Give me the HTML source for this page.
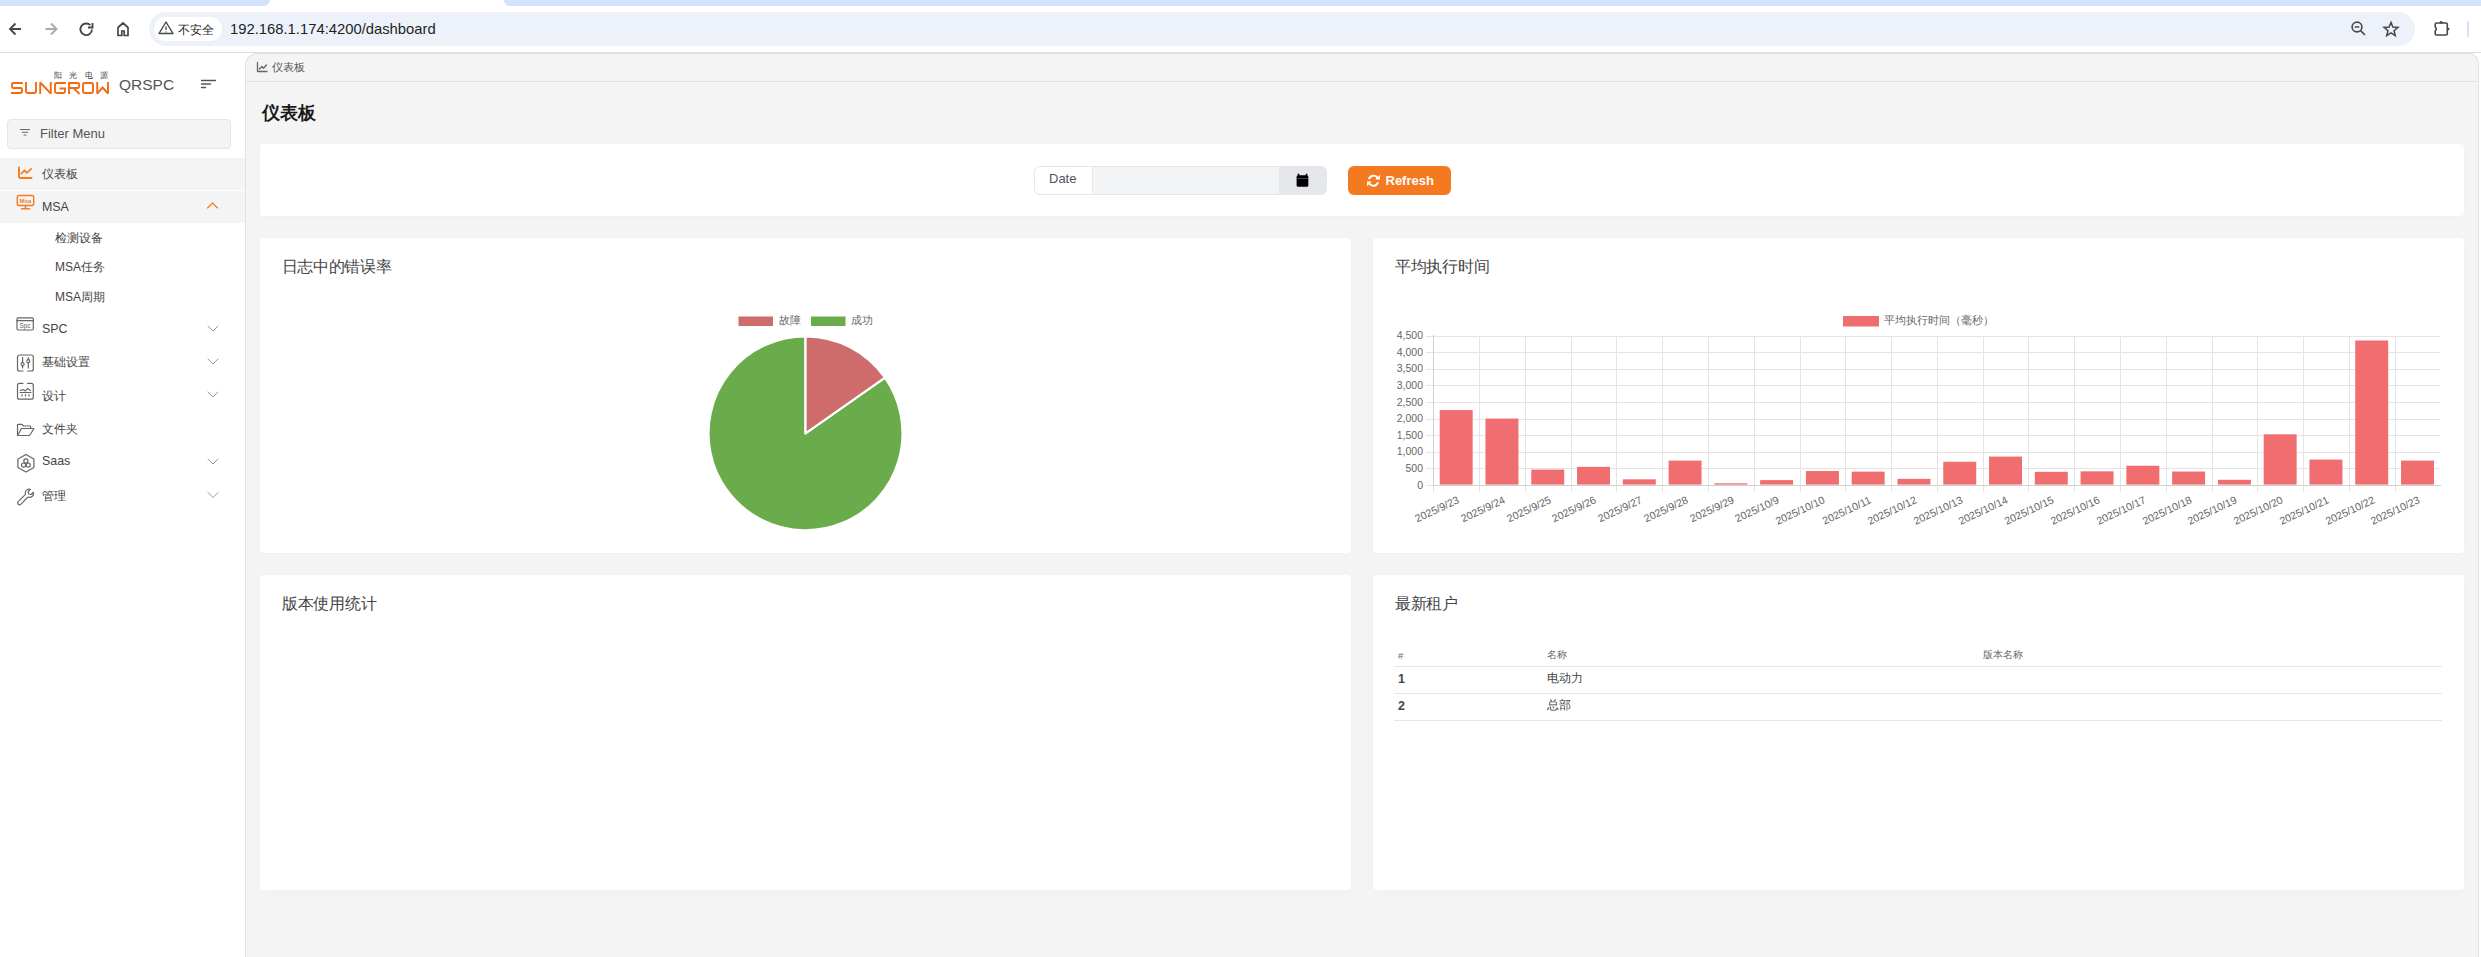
<!DOCTYPE html>
<html><head><meta charset="utf-8">
<style>
*{box-sizing:border-box;margin:0;padding:0}
html,body{width:2481px;height:957px;overflow:hidden;background:#fff;font-family:"Liberation Sans",sans-serif;color:#333}
.a{position:absolute}
#tabstrip{left:0;top:0;width:2481px;height:6px;background:#d3e3fd}
#tab{left:269px;top:0;width:236px;height:6px;background:#fff}
#toolbar{left:0;top:60px;width:2481px;height:46px;background:#fff}
#sep{left:0;top:52px;width:2481px;height:1px;background:#dadce0}
#omni{left:149px;top:12px;width:2266px;height:34px;border-radius:17px;background:#edf2fa}
#chip{left:154px;top:17px;width:68px;height:24px;border-radius:12px;background:#fff}
.url{font-size:14.8px;color:#1f1f1f;white-space:nowrap}
#side{left:0;top:53px;width:245px;height:904px;background:#fff}
#main{left:245px;top:53px;width:2234px;height:904px;background:#f4f4f4;border-left:1px solid #e2e2e2;border-right:1px solid #e2e2e2;border-top:1px solid #e2e2e2;border-top-left-radius:12px;border-top-right-radius:10px}
#bc{left:246px;top:81px;width:2232px;height:1px;background:#e2e2e2}
.card{background:#fff;border-radius:4px;box-shadow:0 1px 8px rgba(0,0,0,0.02)}
.ct{font-size:15.5px;letter-spacing:-0.3px;color:#444;white-space:nowrap}
.mi{font-size:12.4px;color:#444;white-space:nowrap}
.sub{font-size:12px;color:#444;white-space:nowrap}
.chev{width:8px;height:8px;border-right:1.2px solid #999;border-bottom:1.2px solid #999;transform:rotate(45deg)}
.yl{font-size:10.5px;color:#666;text-align:right;width:40px;white-space:nowrap;line-height:12px}
.xl{font-size:10.6px;color:#666;white-space:nowrap;line-height:12px;transform-origin:100% 50%;transform:rotate(-25deg)}
</style></head><body>
<!-- browser chrome -->
<div class="a" style="left:0;top:0;width:270px;height:6px;background:#d3e3fd;border-bottom-right-radius:6px"></div>
<div class="a" style="left:504px;top:0;width:1977px;height:6px;background:#d3e3fd;border-bottom-left-radius:6px"></div>
<div class="a" id="toolbar"></div>
<div class="a" id="sep"></div>
<div class="a" id="omni"></div>
<div class="a" id="chip"></div>

<svg class="a" style="left:0;top:0" width="2481" height="53" viewBox="0 0 2481 53">
 <g fill="none" stroke="#474747" stroke-width="1.9" stroke-linejoin="miter">
  <path d="M21 29H10.5M15.5 23.5L10 29L15.5 34.5"/>
  <path d="M45.5 29H56M51 23.5L56.5 29L51 34.5" stroke="#a9a9a9"/>
  <path d="M92 29.5A5.8 5.8 0 1 1 90.3 25.2"/>
  <path d="M92.5 23V27.5H88" />
  <path d="M118 35.5V27.5L123 23L128 27.5V35.5H124.2V31H121.8V35.5Z" stroke-width="1.7"/>
  <circle cx="2357" cy="27" r="4.9" stroke-width="1.6"/><path d="M2360.6 30.6L2365 35M2354.7 27H2359.3" stroke-width="1.6"/>
  <path d="M2391.00 22.40L2392.88 27.11L2397.94 27.44L2394.04 30.69L2395.29 35.61L2391.00 32.90L2386.71 35.61L2387.96 30.69L2384.06 27.44L2389.12 27.11Z" stroke-width="1.5" stroke-linejoin="miter"/>
  <path d="M2436.5 23H2446Q2447.3 23 2447.3 24.3V33.8Q2447.3 35 2446 35H2436.5Q2435.2 35 2435.2 33.8V31Q2437.2 29 2435.2 27V24.3Q2435.2 23 2436.5 23Z" stroke-width="1.6" stroke-linejoin="round"/><circle cx="2441.2" cy="22.2" r="1.3" fill="#474747" stroke="none"/><circle cx="2448.2" cy="29" r="1.3" fill="#474747" stroke="none"/>
 </g>
 <path d="M2468 21V37" stroke="#a8c7fa" stroke-width="1"/>
 <g fill="none" stroke="#474747" stroke-width="1.4" stroke-linejoin="round">
  <path d="M166 22L173 33.5H159Z"/>
 </g>
 <path d="M166 26.5V30M166 31.5V32.5" stroke="#474747" stroke-width="1.3"/>
</svg>
<div class="a" style="left:178px;top:23px;font-size:12px;color:#1f1f1f;line-height:15px">不安全</div>
<div class="a url" style="left:230px;top:21px">192.168.1.174:4200/dashboard</div>

<!-- sidebar -->
<div class="a" id="side"></div>

<div class="a" style="left:7px;top:119px;width:224px;height:30px;background:#f4f4f4;border:1px solid #e6e6e6;border-radius:4px"></div>
<div class="a mi" style="left:40px;top:126px;font-size:13px;color:#555;line-height:15px">Filter Menu</div>
<div class="a" style="left:0;top:158px;width:245px;height:32px;background:#f4f4f4"></div>
<div class="a" style="left:0;top:191px;width:245px;height:32px;background:#f4f4f4"></div>
<div class="a mi" style="left:42px;top:167px;line-height:15px">仪表板</div>
<div class="a mi" style="left:42px;top:200px;line-height:15px">MSA</div>
<div class="a sub" style="left:55px;top:231px;line-height:15px">检测设备</div>
<div class="a sub" style="left:55px;top:260px;line-height:15px">MSA任务</div>
<div class="a sub" style="left:55px;top:290px;line-height:15px">MSA周期</div>
<div class="a mi" style="left:42px;top:322px;line-height:15px">SPC</div>
<div class="a mi" style="left:42px;top:355px;line-height:15px">基础设置</div>
<div class="a mi" style="left:42px;top:389px;line-height:15px">设计</div>
<div class="a mi" style="left:42px;top:422px;line-height:15px">文件夹</div>
<div class="a mi" style="left:42px;top:454px;line-height:15px">Saas</div>
<div class="a mi" style="left:42px;top:489px;line-height:15px">管理</div>

<svg class="a" style="left:0;top:60px" width="120" height="40" viewBox="0 60 120 40">
 <g fill="none" stroke="#f26b10" stroke-width="1.9" stroke-linejoin="miter" stroke-miterlimit="1.5">
  <path d="M22.8 83H13.2Q12 83 12 84.2V86.8Q12 88 13.2 88H20.8Q22 88 22 89.2V91.8Q22 93 20.8 93H11"/>
  <path d="M26 82V91.5Q26 93 27.5 93H34.5Q36 93 36 91.5V82"/>
  <path d="M40.2 94V82.5L50.8 93.5V82"/>
  <path d="M65.8 83H56.5Q55 83 55 84.5V91.5Q55 93 56.5 93H63.5Q65 93 65 91.5V88.5H59.5"/>
  <path d="M69 94V83H77.8Q79.2 83 79.2 84.4V86.6Q79.2 88 77.8 88H70M73.5 88L79.5 94"/>
  <path d="M83 84.5Q83 83 84.5 83H91.5Q93 83 93 84.5V91.5Q93 93 91.5 93H84.5Q83 93 83 91.5Z"/>
  <path d="M97.2 82V93.5L102.6 87.5L108 93.5V82"/>
 </g>
</svg>
<div class="a" style="left:54px;top:71px;font-size:8px;line-height:10px;letter-spacing:7.3px;color:#3a3a3a;white-space:nowrap">阳光电源</div>
<div class="a" style="left:119px;top:76px;font-size:15.5px;color:#555;line-height:18px">QRSPC</div>
<svg class="a" style="left:0;top:0" width="245" height="957" viewBox="0 0 245 957">
 <g fill="none" stroke="#f47b20" stroke-linecap="round" stroke-linejoin="round">
  <path d="M19 167.5V176.5Q19 178 20.5 178H31.5" stroke-width="1.9"/>
  <path d="M21.3 173.6L24.4 170.4L26.8 172.8L31.2 168.8" stroke-width="1.7"/>
  <rect x="17.3" y="195.5" width="16.4" height="10" rx="1.5" stroke-width="1.4"/>
  <path d="M25.5 205.7V208.6M21.5 208.8H29.6" stroke-width="1.4"/>
  <path d="M207.5 208L212.5 203L217.5 208" stroke-width="1.1"/>
 </g>
 <text x="25.5" y="203.3" font-family="Liberation Sans" font-size="6" font-weight="bold" fill="#f47b20" text-anchor="middle">Msa</text>
 <g fill="none" stroke="#666" stroke-width="1.2" stroke-linecap="round" stroke-linejoin="round">
  <rect x="17" y="317.8" width="16.3" height="12.2" rx="1.2"/>
  <path d="M17 320.6H33.3"/>
  <path d="M17.3 380" stroke="none"/>
  <path d="M23 371H19.5Q17.5 371 17.5 369V357Q17.5 355 19.5 355H31.3Q33.3 355 33.3 357V369Q33.3 371 31.3 371H27.5"/>
  <path d="M22.6 357.5V362.5M22.6 366V368M28.3 357.5V359.5M28.3 363V368"/>
  <circle cx="22.6" cy="364.2" r="1.5"/><circle cx="28.3" cy="361.2" r="1.5"/>
  <path d="M23 383.3H19.5Q17.5 383.3 17.5 385.3V397.2Q17.5 399.2 19.5 399.2H31.3Q33.3 399.2 33.3 397.2V385.3Q33.3 383.3 31.3 383.3H27.5"/>
  <path d="M20.5 390.5L23 389.5L25.5 391L27.5 388.5L30.5 390.5M20 392.5H31"/>
  <path d="M22 394.5V396M25.5 394.5V396M29 394.5V396"/>
  <path d="M17.5 435.5V425Q17.5 424.3 18.2 424.3H22L23.5 426H30Q30.6 426 30.6 426.7V428.5M17.5 435.5H29.5L33.8 429Q34 428.5 33.4 428.5H21.5L17.5 435.5"/>
  <path d="M25.9 454.5L33.9 459V467.5L25.9 472L17.9 467.5V459Z"/>
  <circle cx="25.9" cy="461" r="2.1"/><circle cx="23.6" cy="465.1" r="2.1"/><circle cx="28.2" cy="465.1" r="2.1"/>
  <path d="M30.5 489.3Q27.5 488.5 26 490.5Q24.7 492.3 25.5 494.3L18.2 501.7Q17 503 18.2 504.3Q19.5 505.5 20.8 504.3L28 497Q30.5 498 32.3 496.3Q33.8 494.7 33.5 492.3L31 494.5L28.7 494L28.2 491.5Z"/>
 </g>
 <text x="25" y="328.3" font-family="Liberation Sans" font-size="6.5" fill="#666" text-anchor="middle">Spc</text>
 <g fill="none" stroke="#999" stroke-width="1" stroke-linecap="round">
  <path d="M208 326L213 331L218 326"/>
  <path d="M208 359L213 364L218 359"/>
  <path d="M208 392L213 397L218 392"/>
  <path d="M208 459L213 464L218 459"/>
  <path d="M208 492.5L213 497.5L218 492.5"/>
 </g>
 <g stroke="#555" stroke-width="1.4" stroke-linecap="round">
  <path d="M201.5 80.5H215.5M201.5 84H210.5M201.5 87.5H205.5"/>
 </g>
 <g fill="none" stroke="#666" stroke-width="1.1" stroke-linecap="round">
  <path d="M20.5 129.5H29.5M22.3 132.3H27.7M24 135H26"/>
 </g>
</svg>

<!-- main -->
<div class="a" id="main"></div>
<div class="a" id="bc"></div>

<svg class="a" style="left:250px;top:55px" width="25" height="25" viewBox="250 55 25 25">
 <g fill="none" stroke="#666" stroke-width="1.3" stroke-linecap="round" stroke-linejoin="round">
  <path d="M257.5 62.5V71.5H267"/><path d="M259.5 69L261.8 66.5L263.5 68.3L266.5 65"/>
 </g>
</svg>
<div class="a" style="left:272px;top:60px;font-size:11px;color:#555">仪表板</div>
<div class="a" style="left:262px;top:101px;font-size:18px;font-weight:bold;color:#1a1a1a">仪表板</div>

<div class="a card" style="left:260px;top:144px;width:2204px;height:72px"></div>
<div class="a card" style="left:260px;top:238px;width:1091px;height:315px"></div>
<div class="a card" style="left:1373px;top:238px;width:1091px;height:315px"></div>
<div class="a card" style="left:260px;top:575px;width:1091px;height:315px"></div>
<div class="a card" style="left:1373px;top:575px;width:1091px;height:315px"></div>

<div class="a ct" style="left:281.5px;top:257px">日志中的错误率</div>
<div class="a ct" style="left:1395px;top:257px">平均执行时间</div>
<div class="a ct" style="left:282px;top:594px">版本使用统计</div>
<div class="a ct" style="left:1395px;top:594px">最新租户</div>


<div class="a" style="left:1034px;top:166px;width:293px;height:29px;border:1px solid #e3e8ef;border-radius:6px;background:#e5e7eb;overflow:hidden">
 <div class="a" style="left:0;top:0;width:58px;height:27px;background:#fff;border-right:1px solid #e3e8ef"></div>
 <div class="a" style="left:58px;top:0;width:186px;height:27px;background:#f3f4f6"></div>
</div>
<div class="a" style="left:1049px;top:171px;font-size:13px;line-height:15px;color:#4b5563">Date</div>
<svg class="a" style="left:1290px;top:168px" width="25" height="25" viewBox="1290 168 25 25">
 <path d="M1298.5 173.8V176M1306.5 173.8V176" stroke="#000" stroke-width="1.6"/>
 <rect x="1296.6" y="175.2" width="11.7" height="11.6" rx="1.5" fill="#000"/>
 <path d="M1296.6 178.5H1308.3" stroke="#555" stroke-width="0.8"/>
</svg>
<div class="a" style="left:1348px;top:166px;width:103px;height:29px;background:#f47920;border-radius:6px"></div>
<svg class="a" style="left:1362px;top:170px" width="22" height="22" viewBox="1362 170 22 22">
 <g fill="none" stroke="#fff" stroke-width="1.9">
  <path d="M1369 179.2A4.7 4.7 0 0 1 1377.4 177.6"/>
  <path d="M1378 182.2A4.7 4.7 0 0 1 1369.6 183.8"/>
 </g>
 <path d="M1380 174.8V179.6H1375.2Z" fill="#fff"/>
 <path d="M1367 186.3V181.5H1371.8Z" fill="#fff"/>
</svg>
<div class="a" style="left:1385.5px;top:173px;font-size:13px;line-height:15px;color:#fff;font-weight:bold">Refresh</div>


<svg class="a" style="left:690px;top:300px" width="230" height="240" viewBox="690 300 230 240">
 <rect x="738.5" y="316.5" width="34.5" height="9.5" fill="#ce6c6c"/>
 <rect x="811" y="316.5" width="34.5" height="9.5" fill="#6aac4c"/>
 <path d="M805.5 433.3L805.5 336.3A97 97 0 1 0 884.96 377.66Z" fill="#6aac4c" stroke="#fff" stroke-width="2.2" stroke-linejoin="round"/>
 <path d="M805.5 433.3L805.5 336.3A97 97 0 0 1 884.96 377.66Z" fill="#ce6c6c" stroke="#fff" stroke-width="2.2" stroke-linejoin="round"/>
</svg>
<div class="a" style="left:779px;top:314px;font-size:11px;line-height:13px;color:#666">故障</div>
<div class="a" style="left:851px;top:314px;font-size:11px;line-height:13px;color:#666">成功</div>

<svg class="a" style="left:1380px;top:300px" width="1080" height="250" viewBox="1380 300 1080 250">
<g stroke="#e4e4e4" stroke-width="1" shape-rendering="crispEdges">
<path d="M1426 336.5H2440.4"/>
<path d="M1426 352.5H2440.4"/>
<path d="M1426 369.5H2440.4"/>
<path d="M1426 385.5H2440.4"/>
<path d="M1426 402.5H2440.4"/>
<path d="M1426 419.5H2440.4"/>
<path d="M1426 435.5H2440.4"/>
<path d="M1426 452.5H2440.4"/>
<path d="M1426 468.5H2440.4"/>
<path d="M1426 485.5H2440.4"/>
<path d="M1433.5 336V492"/>
<path d="M1479.5 336V492"/>
<path d="M1525.5 336V492"/>
<path d="M1571.5 336V492"/>
<path d="M1616.5 336V492"/>
<path d="M1662.5 336V492"/>
<path d="M1708.5 336V492"/>
<path d="M1754.5 336V492"/>
<path d="M1800.5 336V492"/>
<path d="M1845.5 336V492"/>
<path d="M1891.5 336V492"/>
<path d="M1937.5 336V492"/>
<path d="M1983.5 336V492"/>
<path d="M2028.5 336V492"/>
<path d="M2074.5 336V492"/>
<path d="M2120.5 336V492"/>
<path d="M2166.5 336V492"/>
<path d="M2212.5 336V492"/>
<path d="M2257.5 336V492"/>
<path d="M2303.5 336V492"/>
<path d="M2349.5 336V492"/>
<path d="M2395.5 336V492"/>

</g>
<path d="M1433.5 335V485.5H2440.5" fill="none" stroke="#d0d0d0" stroke-width="1" shape-rendering="crispEdges"/>
<rect x="1439.71" y="410.10" width="32.96" height="74.50" fill="#f06e6f"/>
<rect x="1485.49" y="418.58" width="32.96" height="66.02" fill="#f06e6f"/>
<rect x="1531.26" y="469.54" width="32.96" height="15.06" fill="#f06e6f"/>
<rect x="1577.04" y="466.85" width="32.96" height="17.75" fill="#f06e6f"/>
<rect x="1622.82" y="479.32" width="32.96" height="5.28" fill="#f06e6f"/>
<rect x="1668.60" y="460.57" width="32.96" height="24.03" fill="#f06e6f"/>
<rect x="1714.37" y="483.30" width="32.96" height="1.30" fill="#f06e6f"/>
<rect x="1760.15" y="480.11" width="32.96" height="4.49" fill="#f06e6f"/>
<rect x="1805.93" y="471.04" width="32.96" height="13.56" fill="#f06e6f"/>
<rect x="1851.70" y="471.64" width="32.96" height="12.96" fill="#f06e6f"/>
<rect x="1897.48" y="478.82" width="32.96" height="5.78" fill="#f06e6f"/>
<rect x="1943.26" y="461.76" width="32.96" height="22.84" fill="#f06e6f"/>
<rect x="1989.04" y="456.58" width="32.96" height="28.02" fill="#f06e6f"/>
<rect x="2034.81" y="471.84" width="32.96" height="12.76" fill="#f06e6f"/>
<rect x="2080.59" y="471.34" width="32.96" height="13.26" fill="#f06e6f"/>
<rect x="2126.37" y="465.75" width="32.96" height="18.85" fill="#f06e6f"/>
<rect x="2172.15" y="471.54" width="32.96" height="13.06" fill="#f06e6f"/>
<rect x="2217.92" y="479.81" width="32.96" height="4.79" fill="#f06e6f"/>
<rect x="2263.70" y="434.34" width="32.96" height="50.26" fill="#f06e6f"/>
<rect x="2309.48" y="459.57" width="32.96" height="25.03" fill="#f06e6f"/>
<rect x="2355.25" y="340.49" width="32.96" height="144.11" fill="#f06e6f"/>
<rect x="2401.03" y="460.57" width="32.96" height="24.03" fill="#f06e6f"/>
<rect x="1843" y="316" width="36" height="10.5" fill="#f06e6f"/>
</svg>
<div class="a" style="left:1884px;top:314px;font-size:11px;line-height:13px;color:#666;white-space:nowrap">平均执行时间（毫秒）</div>
<div class="a yl" style="left:1383px;top:329.0px">4,500</div>
<div class="a yl" style="left:1383px;top:345.6px">4,000</div>
<div class="a yl" style="left:1383px;top:362.2px">3,500</div>
<div class="a yl" style="left:1383px;top:378.9px">3,000</div>
<div class="a yl" style="left:1383px;top:395.5px">2,500</div>
<div class="a yl" style="left:1383px;top:412.1px">2,000</div>
<div class="a yl" style="left:1383px;top:428.7px">1,500</div>
<div class="a yl" style="left:1383px;top:445.4px">1,000</div>
<div class="a yl" style="left:1383px;top:462.0px">500</div>
<div class="a yl" style="left:1383px;top:478.6px">0</div>
<div class="a xl" style="right:1022.8px;top:493px">2025/9/23</div>
<div class="a xl" style="right:977.0px;top:493px">2025/9/24</div>
<div class="a xl" style="right:931.3px;top:493px">2025/9/25</div>
<div class="a xl" style="right:885.5px;top:493px">2025/9/26</div>
<div class="a xl" style="right:839.7px;top:493px">2025/9/27</div>
<div class="a xl" style="right:793.9px;top:493px">2025/9/28</div>
<div class="a xl" style="right:748.1px;top:493px">2025/9/29</div>
<div class="a xl" style="right:702.4px;top:493px">2025/10/9</div>
<div class="a xl" style="right:656.6px;top:493px">2025/10/10</div>
<div class="a xl" style="right:610.8px;top:493px">2025/10/11</div>
<div class="a xl" style="right:565.0px;top:493px">2025/10/12</div>
<div class="a xl" style="right:519.3px;top:493px">2025/10/13</div>
<div class="a xl" style="right:473.5px;top:493px">2025/10/14</div>
<div class="a xl" style="right:427.7px;top:493px">2025/10/15</div>
<div class="a xl" style="right:381.9px;top:493px">2025/10/16</div>
<div class="a xl" style="right:336.2px;top:493px">2025/10/17</div>
<div class="a xl" style="right:290.4px;top:493px">2025/10/18</div>
<div class="a xl" style="right:244.6px;top:493px">2025/10/19</div>
<div class="a xl" style="right:198.8px;top:493px">2025/10/20</div>
<div class="a xl" style="right:153.0px;top:493px">2025/10/21</div>
<div class="a xl" style="right:107.3px;top:493px">2025/10/22</div>
<div class="a xl" style="right:61.5px;top:493px">2025/10/23</div>

<div class="a" style="left:1398px;top:650px;font-size:9.5px;line-height:11px;color:#666">#</div>
<div class="a" style="left:1547px;top:649px;font-size:9.5px;line-height:11px;color:#666">名称</div>
<div class="a" style="left:1983px;top:649px;font-size:9.5px;line-height:11px;color:#666">版本名称</div>
<div class="a" style="left:1394px;top:666px;width:1048px;height:1px;background:#e2e8f0"></div>
<div class="a" style="left:1398px;top:672px;font-size:12.5px;line-height:14px;color:#444;font-weight:bold">1</div>
<div class="a" style="left:1547px;top:671px;font-size:12px;line-height:14px;color:#444">电动力</div>
<div class="a" style="left:1394px;top:693px;width:1048px;height:1px;background:#e2e8f0"></div>
<div class="a" style="left:1398px;top:699px;font-size:12.5px;line-height:14px;color:#444;font-weight:bold">2</div>
<div class="a" style="left:1547px;top:698px;font-size:12px;line-height:14px;color:#444">总部</div>
<div class="a" style="left:1394px;top:720px;width:1048px;height:1px;background:#e2e8f0"></div>

</body></html>
